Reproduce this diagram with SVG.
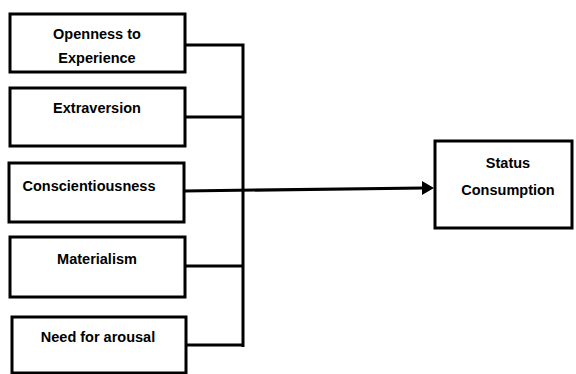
<svg xmlns="http://www.w3.org/2000/svg" width="576" height="374" viewBox="0 0 576 374">
<style>
.box{fill:#fff;stroke:#000;stroke-width:3}
.t{font-family:"Liberation Sans",Arial,sans-serif;font-weight:bold;font-size:14.5px;fill:#000;text-anchor:middle}
.ln{fill:none;stroke:#000;stroke-width:3}
</style>
<defs>
<marker id="ah" markerWidth="10" markerHeight="10" refX="9" refY="5" orient="auto" markerUnits="userSpaceOnUse">
<path d="M0,0 L10,5 L0,10 Z" fill="#000"/>
</marker>
</defs>
<g id="n1"><rect class="box" x="10" y="14" width="175" height="58"/><text class="t" x="97" y="39">Openness to</text><text class="t" x="97" y="63">Experience</text></g>
<g id="n2"><rect class="box" x="10" y="88" width="175" height="58"/><text class="t" x="97" y="113">Extraversion</text></g>
<g id="n3"><rect class="box" x="9" y="163" width="175" height="59"/><text class="t" x="89" y="191">Conscientiousness</text></g>
<g id="n4"><rect class="box" x="10" y="237" width="175" height="60"/><text class="t" x="97" y="264">Materialism</text></g>
<g id="n5"><rect class="box" x="12" y="317" width="174" height="56"/><text class="t" x="98" y="342">Need for arousal</text></g>
<g id="n6"><rect class="box" x="435" y="141" width="137" height="87"/><text class="t" x="508" y="168">Status</text><text class="t" x="508" y="195">Consumption</text></g>
<g id="connectors">
<path class="ln" d="M185,45 H243 V347"/>
<path class="ln" d="M185,117 H243"/>
<path class="ln" d="M185,266 H243"/>
<path class="ln" d="M186,345 H243"/>
<path class="ln" d="M184,191 L424,188" />
<path d="M422,181 L434,188 L422,195 Z" fill="#000"/>
</g>
</svg>
